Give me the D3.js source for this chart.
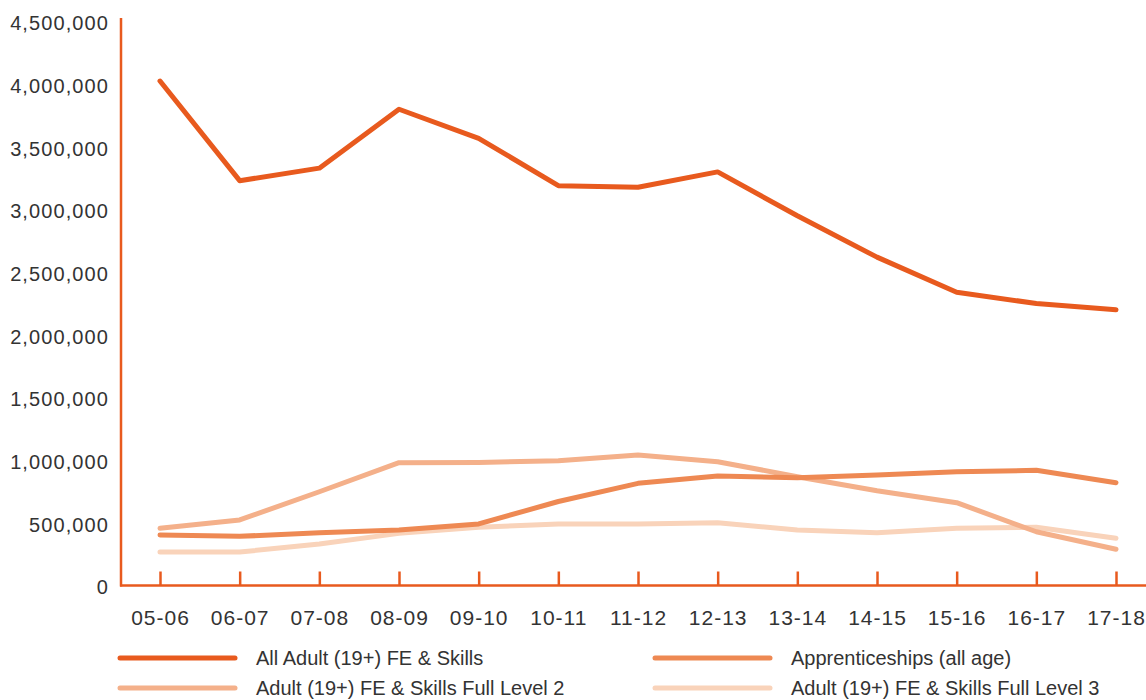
<!DOCTYPE html>
<html>
<head>
<meta charset="utf-8">
<script src="https://cdn.jsdelivr.net/npm/d3@7"></script>
<style>
  body { margin: 0; background: #fff; }
  svg { display: block; }
  text { font-family: "Liberation Sans", Arial, sans-serif; fill: #333; }
</style>
</head>
<body>
<script>
var years = ["05-06", "06-07", "07-08", "08-09", "09-10", "10-11", "11-12", "12-13", "13-14", "14-15", "15-16", "16-17", "17-18"];
var allAdult = [4025000, 3230000, 3330000, 3800000, 3568000, 3190000, 3177000, 3300000, 2950000, 2620000, 2340000, 2250000, 2200000];
var apprenticeships = [403000, 392000, 421000, 443000, 491000, 670000, 815000, 874000, 860000, 882000, 908000, 919000, 820000];
var level2 = [456000, 523000, 748000, 980000, 982000, 996000, 1041000, 988000, 868000, 756000, 661000, 429000, 289000];
var level3 = [267000, 267000, 331000, 416000, 464000, 491000, 491000, 501000, 443000, 421000, 456000, 464000, 377000];
var seriesNames = ["All Adult (19+) FE & Skills", "Apprenticeships (all age)", "Adult (19+) FE & Skills Full Level 2", "Adult (19+) FE & Skills Full Level 3"];
var yTicks = [0, 500000, 1000000, 1500000, 2000000, 2500000, 3000000, 3500000, 4000000, 4500000];

(function () {
    var width = 1146, height = 700;
    var axisColor = "#e85a1e";
    var colors = ["#e85a1e", "#ee8953", "#f4b08a", "#f9d3ba"];
    var series = [allAdult, apprenticeships, level2, level3];

    var svg = d3.select("body").append("svg")
        .attr("width", width)
        .attr("height", height);

    var x = d3.scalePoint().domain(years).range([160, 1116]);
    var y = d3.scaleLinear().domain([0, 4500000]).range([585.5, 21.5]);

    // y labels, no ticks
    var yAxis = d3.axisLeft(y)
        .tickValues(yTicks)
        .tickSize(0)
        .tickPadding(0)
        .tickFormat(d3.format(","));
    var gy = svg.append("g")
        .attr("transform", "translate(109,0)")
        .call(yAxis);
    gy.select(".domain").remove();
    gy.selectAll("text")
        .attr("font-size", 20)
        .attr("letter-spacing", 1.1)
        .attr("dy", "0.42em")
        .attr("font-family", null)
        .attr("fill", null);

    // x labels with small upward ticks
    var xAxis = d3.axisBottom(x).tickSize(-14).tickPadding(25);
    var gx = svg.append("g")
        .attr("transform", "translate(0,585.5)")
        .call(xAxis);
    gx.select(".domain").remove();
    gx.selectAll("line").attr("stroke", axisColor).attr("stroke-width", 2.5);
    gx.selectAll("text")
        .attr("font-size", 21)
        .attr("letter-spacing", 1)
        .attr("font-family", null)
        .attr("fill", null);

    // axis lines
    svg.append("line")
        .attr("x1", 121).attr("x2", 121)
        .attr("y1", 18).attr("y2", 586.5)
        .attr("stroke", axisColor).attr("stroke-width", 2.5);
    svg.append("line")
        .attr("x1", 120).attr("x2", width)
        .attr("y1", 585.5).attr("y2", 585.5)
        .attr("stroke", axisColor).attr("stroke-width", 2.5);

    var line = d3.line()
        .x(function (d, i) { return x(years[i]); })
        .y(function (d) { return y(d); });

    // draw lighter series first
    [3, 2, 1, 0].forEach(function (k) {
        svg.append("path")
            .datum(series[k])
            .attr("fill", "none")
            .attr("stroke", colors[k])
            .attr("stroke-width", 5)
            .attr("stroke-linecap", "round")
            .attr("stroke-linejoin", "round")
            .attr("d", line);
    });

    // legend
    var legendPos = [[120, 658], [655, 658], [120, 688], [655, 688]];
    var legend = svg.append("g").selectAll("g")
        .data(seriesNames)
        .enter().append("g")
        .attr("transform", function (d, i) { return "translate(" + legendPos[i][0] + "," + legendPos[i][1] + ")"; });
    legend.append("line")
        .attr("x1", 0).attr("x2", 115)
        .attr("stroke", function (d, i) { return colors[i]; })
        .attr("stroke-width", 5)
        .attr("stroke-linecap", "round");
    legend.append("text")
        .attr("x", 136)
        .attr("dy", "0.36em")
        .attr("font-size", 20)
        .text(function (d) { return d; });
})();
</script>
</body>
</html>
